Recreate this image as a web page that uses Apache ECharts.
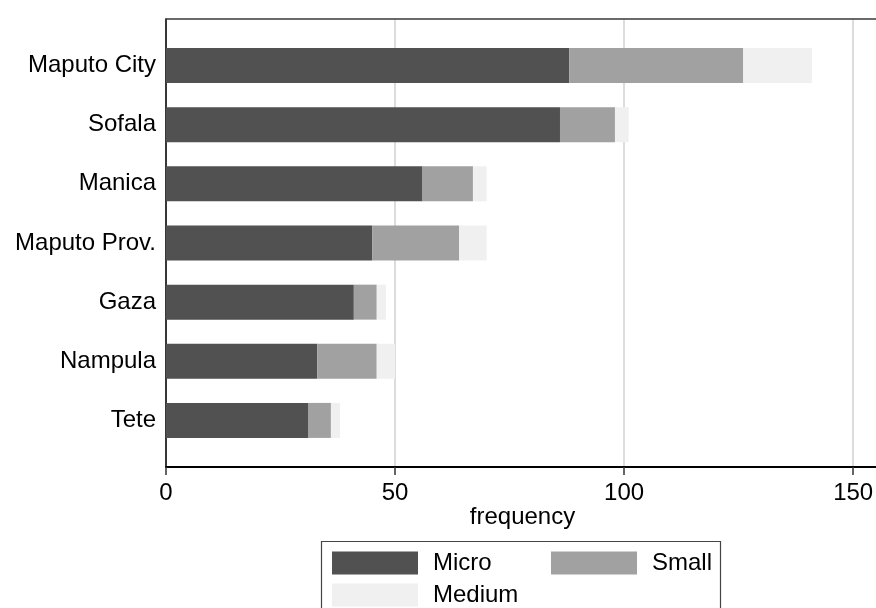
<!DOCTYPE html>
<html>
<head>
<meta charset="utf-8">
<script src="https://cdn.jsdelivr.net/npm/echarts@6/dist/echarts.min.js"></script>
<style>
html,body{margin:0;padding:0;background:#fff;}
#c{width:876px;height:608px;}
</style>
</head>
<body>
<div id="c"></div>
<script>
const categories = ["Maputo City", "Sofala", "Manica", "Maputo Prov.", "Gaza", "Nampula", "Tete"];
const micro = [88, 86, 56, 45, 41, 33, 31];
const small = [38, 12, 11, 19, 5, 13, 5];
const medium = [15, 3, 3, 6, 2, 4, 2];
const xTicks = [0, 50, 100, 150];
const seriesNames = ["Micro", "Small", "Medium"];

const FONT = "Liberation Sans, Arial, sans-serif";
const FS = 24;
const colors = ["#515151", "#a1a1a1", "#f0f0f0"];

const chart = echarts.init(document.getElementById('c'), null, {renderer: 'canvas'});

const legendBase = {
  icon: 'rect', itemWidth: 86, itemHeight: 23, selectedMode: false,
  textStyle: {fontFamily: FONT, fontSize: FS, color: '#000', padding: [0, 0, 0, 10]},
  padding: 0
};

chart.setOption({
  animation: false,
  backgroundColor: '#fff',
  textStyle: {fontFamily: FONT},
  grid: [
    {left: 166, width: 733, top: 36, bottom: 158, containLabel: false, outerBoundsMode: 'none'},
    {left: 166, width: 733, top: 19, bottom: 141, containLabel: false, outerBoundsMode: 'none'}
  ],
  xAxis: [
    {gridIndex: 0, type: 'value', min: 0, max: 160, show: false},
    {gridIndex: 1, type: 'value', min: 0, max: 160, interval: 50, position: 'bottom',
     axisLine: {show: true, onZero: false, lineStyle: {color: '#000', width: 2}},
     axisTick: {show: true, length: 8, lineStyle: {color: '#333', width: 1.5}},
     axisLabel: {show: true, margin: 14, fontFamily: FONT, fontSize: FS, color: '#000',
       showMaxLabel: false,
       formatter: v => (xTicks.indexOf(v) >= 0 ? String(v) : '')},
     splitLine: {show: true, lineStyle: {color: '#dcdcdc', width: 2}},
     name: 'frequency', nameLocation: 'middle', nameGap: 38, nameMoveOverlap: false,
     nameTextStyle: {fontFamily: FONT, fontSize: FS, color: '#000', padding: [0, 20, 0, 0]}},
    {gridIndex: 1, type: 'value', min: 0, max: 160, position: 'top',
     axisLine: {show: true, onZero: false, lineStyle: {color: '#3a3a3a', width: 1.5}},
     axisTick: {show: false}, axisLabel: {show: false}, splitLine: {show: false}}
  ],
  yAxis: [
    {gridIndex: 0, type: 'category', data: categories, inverse: true,
     axisLine: {show: false}, axisTick: {show: false},
     axisLabel: {margin: 10, fontFamily: FONT, fontSize: FS, color: '#000', padding: [10, 0, 0, 0]}},
    {gridIndex: 1, type: 'value', min: 0, max: 1,
     axisLine: {show: true, onZero: false, lineStyle: {color: '#000', width: 1.5}},
     axisTick: {show: false}, axisLabel: {show: false}, splitLine: {show: false}}
  ],
  legend: [
    Object.assign({}, legendBase, {left: 332, top: 551, data: [seriesNames[0]]}),
    Object.assign({}, legendBase, {left: 551, top: 551, data: [seriesNames[1]]}),
    Object.assign({}, legendBase, {left: 332, top: 583, data: [seriesNames[2]]})
  ],
  graphic: [
    {type: 'rect', shape: {x: 321.5, y: 541.5, width: 399, height: 100},
     style: {fill: 'none', stroke: '#444', lineWidth: 1.2}, z: -1}
  ],
  series: [
    {name: seriesNames[0], type: 'bar', stack: 's', xAxisIndex: 0, yAxisIndex: 0,
     data: micro, barWidth: 35, itemStyle: {color: colors[0]}},
    {name: seriesNames[1], type: 'bar', stack: 's', xAxisIndex: 0, yAxisIndex: 0,
     data: small, barWidth: 35, itemStyle: {color: colors[1]}},
    {name: seriesNames[2], type: 'bar', stack: 's', xAxisIndex: 0, yAxisIndex: 0,
     data: medium, barWidth: 35, itemStyle: {color: colors[2]}}
  ]
});
</script>
</body>
</html>
